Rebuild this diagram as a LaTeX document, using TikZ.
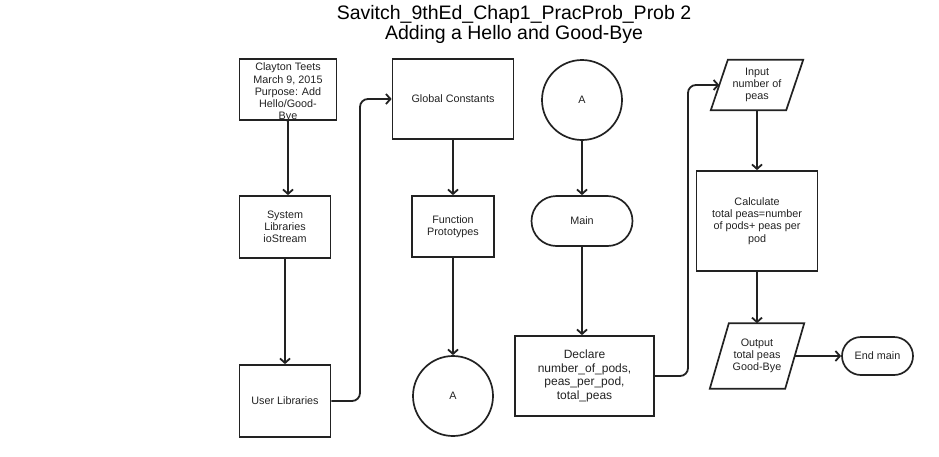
\documentclass[tikz,border=0pt]{standalone}
\usepackage{fontspec}
\setmainfont{Liberation Sans}
\usetikzlibrary{arrows.meta}
\definecolor{ink}{HTML}{222222}
\begin{document}
\begin{tikzpicture}[x=1pt,y=-1pt,
  every node/.style={text=ink, inner sep=0pt, align=center},
  fs/.style={font=\fontsize{10.8}{12.2}\selectfont},
  box/.style={draw=ink, line width=1.7pt, rectangle, fs},
  term/.style={draw=ink, line width=1.7pt, rounded corners=#1, fs},
  circ/.style={draw=ink, line width=1.7pt, circle, minimum size=80pt, fs},
  io/.style={fs},
  para/.style={draw=ink, line width=1.7pt, line join=miter},
  conn/.style={draw=ink, line width=1.8pt, -{Straight Barb[length=4.5pt,width=10pt,line width=1.8pt]}},
  ttl/.style={font=\fontsize{19.5}{20.5}\selectfont, anchor=base, text=black}]
\useasboundingbox (0,0) rectangle (939,456);

% title
\node[ttl] (t1) at (514,19) {Savitch\_9thEd\_Chap1\_PracProb\_Prob 2};
\node[ttl] (t2) at (514,39) {Adding a Hello and Good-Bye};

% left column
\node[box, minimum width=97pt, minimum height=61pt] (clay) at (288,89.5) {};
\node[fs] (claytext) at (288,92.5)
  {Clayton Teets\\March 9, 2015\\Purpose: Add\\Hello/Good-\\Bye};
\node[box, minimum width=91pt, minimum height=62pt] (sys) at (285,227)
  {System\\Libraries\\ioStream};
\node[box, minimum width=91pt, minimum height=72pt] (user) at (285,401)
  {User Libraries};

% second column
\node[box, minimum width=121pt, minimum height=80pt] (gc) at (453,99)
  {Global Constants};
\node[box, minimum width=82pt, minimum height=61pt] (fp) at (453,226.5)
  {Function\\Prototypes};
\node[circ] (a2) at (453,396) {A};

% third column
\node[circ] (a1) at (582,100) {A};
\node[term=25pt, minimum width=101pt, minimum height=50pt] (main) at (582,221) {Main};
\node[box, minimum width=139pt, minimum height=80pt,
      font=\fontsize{12}{13.7}\selectfont] (decl) at (584.5,376)
  {Declare\\number\_of\_pods,\\peas\_per\_pod,\\total\_peas};

% fourth column
\node[io, minimum width=75pt, minimum height=50pt] (inp) at (757,85)
  {Input\\number of\\peas};
\draw[para] ([xshift=8.5pt]inp.north west) -- ([xshift=8.5pt]inp.north east)
  -- ([xshift=-8.5pt]inp.south east) -- ([xshift=-8.5pt]inp.south west) -- cycle;
\node[box, minimum width=121pt, minimum height=100pt] (calc) at (757,221)
  {Calculate\\total peas=number\\of pods+ peas per\\pod};
\node[io, minimum width=75pt, minimum height=65pt] (out) at (757,356)
  {Output\\total peas\\Good-Bye};
\draw[para] ([xshift=9.5pt]out.north west) -- ([xshift=9.5pt]out.north east)
  -- ([xshift=-9.5pt]out.south east) -- ([xshift=-9.5pt]out.south west) -- cycle;
\node[term=19pt, minimum width=71pt, minimum height=38pt] (endm) at (877.5,356)
  {End main};

% connectors
\coordinate (j1) at (360,401);
\coordinate (j2) at (688,376);
\draw[conn] (clay.south) -- (clay.south |- sys.north);
\draw[conn] (sys.south) -- (sys.south |- user.north);
\draw[conn, rounded corners=8pt] (user.east) -- (j1) |- (gc.west);
\draw[conn] (gc.south) -- (gc.south |- fp.north);
\draw[conn] (fp.south) -- (a2.north);
\draw[conn] (a1.south) -- (a1.south |- main.north);
\draw[conn] (main.south) -- (main.south |- decl.north);
\draw[conn, rounded corners=8pt] (decl.east) -- (j2) |- (inp.west);
\draw[conn] (inp.south) -- (inp.south |- calc.north);
\draw[conn] (calc.south) -- (calc.south |- out.north);
\draw[conn] (out.east) -- (endm.west);
\end{tikzpicture}
\end{document}
